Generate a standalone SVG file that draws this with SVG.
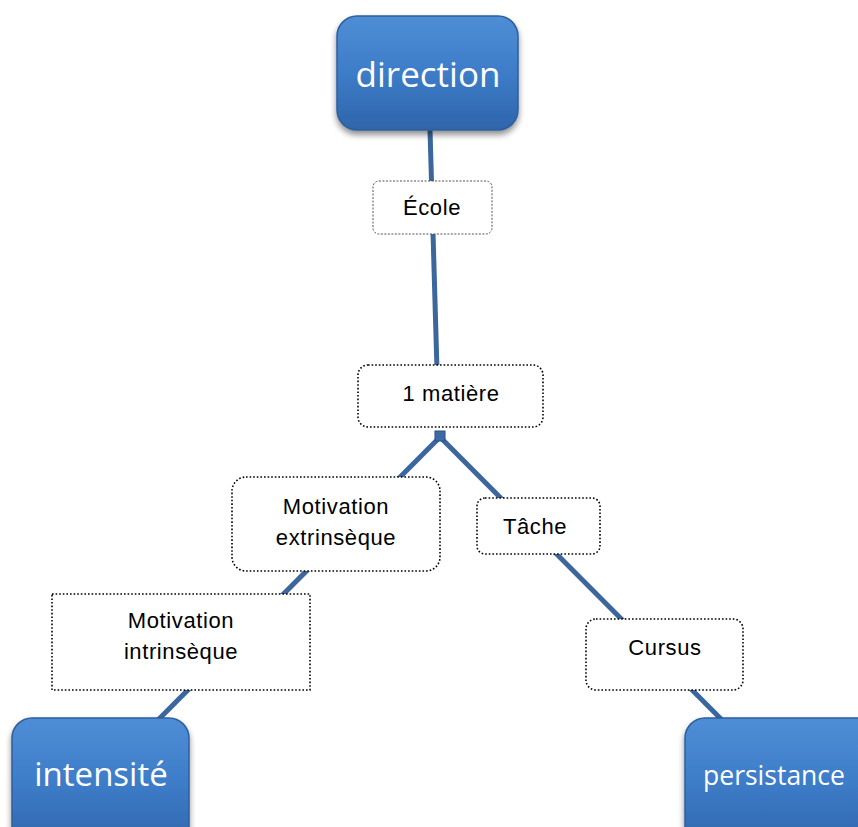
<svg xmlns="http://www.w3.org/2000/svg" width="858" height="827" viewBox="0 0 858 827">
<defs>
<linearGradient id="blue" x1="0" y1="0" x2="0" y2="1">
<stop offset="0" stop-color="#4f8ed6"/>
<stop offset="0.5" stop-color="#3d7cc8"/>
<stop offset="1" stop-color="#2f65ab"/>
</linearGradient>
<filter id="sh" x="-20%" y="-20%" width="140%" height="150%">
<feGaussianBlur in="SourceAlpha" stdDeviation="3"/>
<feOffset dx="0" dy="4" result="b"/>
<feComponentTransfer><feFuncA type="linear" slope="0.45"/></feComponentTransfer>
<feMerge><feMergeNode/><feMergeNode in="SourceGraphic"/></feMerge>
</filter>
</defs>
<style>
.conn{stroke:#3b679c;stroke-width:5;fill:none}
.big{fill:url(#blue);stroke:#2e5f9c;stroke-width:1.5;filter:url(#sh)}
.bt{fill:#ffffff;font-family:"Open Sans","Noto Sans",sans-serif;text-anchor:middle}
.lab{fill:#ffffff;stroke:#000;stroke-width:1.6;stroke-dasharray:1.6 2}
.lab2{fill:#ffffff;stroke:#555;stroke-width:1;stroke-dasharray:2 1.5}
.t{font-family:"Liberation Sans",Arial,sans-serif;font-size:22px;letter-spacing:0.6px;fill:#000;text-anchor:middle}
</style>
<g id="connectors">
<line class="conn" x1="430" y1="130" x2="437" y2="370"/>
<line class="conn" x1="440" y1="437" x2="158" y2="720"/>
<line class="conn" x1="440" y1="437" x2="722" y2="720"/>
<rect x="435" y="431" width="10" height="10" fill="#3b6aa5" stroke="#2a4f80" stroke-width="1"/>
</g>
<g id="direction">
<rect class="big" x="337" y="16" width="181" height="114" rx="20"/>
<text class="bt" x="428" y="87" font-size="35">direction</text>
</g>
<g id="ecole">
<rect class="lab2" x="373" y="181" width="119" height="53" rx="6"/>
<text class="t" x="432" y="215">École</text>
</g>
<g id="matiere">
<rect class="lab" x="358" y="365" width="185" height="62" rx="10"/>
<text class="t" x="451" y="401">1 matière</text>
</g>
<g id="extrinseque">
<rect class="lab" x="232" y="477" width="208" height="94" rx="14"/>
<text class="t" x="336" y="514">Motivation</text>
<text class="t" x="336" y="545">extrinsèque</text>
</g>
<g id="intrinseque">
<rect class="lab" x="52" y="594" width="258" height="96"/>
<text class="t" x="181" y="628">Motivation</text>
<text class="t" x="181" y="659">intrinsèque</text>
</g>
<g id="tache">
<rect class="lab" x="477" y="498" width="123" height="56" rx="8"/>
<text class="t" x="535" y="534">Tâche</text>
</g>
<g id="cursus">
<rect class="lab" x="586" y="619" width="157" height="71" rx="10"/>
<text class="t" x="665" y="655">Cursus</text>
</g>
<g id="intensite">
<rect class="big" x="12" y="718" width="177" height="130" rx="20"/>
<text class="bt" x="101" y="786" font-size="33">intensité</text>
</g>
<g id="persistance">
<rect class="big" x="685" y="718" width="200" height="130" rx="20"/>
<text class="bt" x="774" y="785" font-size="26.5">persistance</text>
</g>
</svg>
